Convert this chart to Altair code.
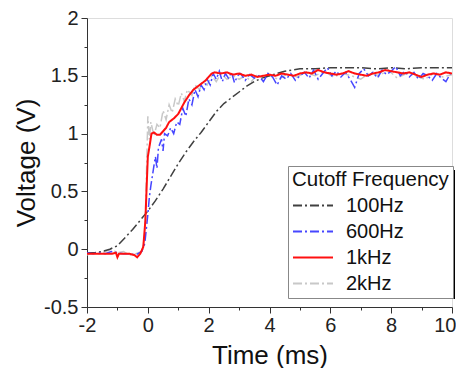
import altair as alt
import pandas as pd

# ---- data ----
series_names = ["100Hz", "600Hz", "1kHz", "2kHz"]
series_colors = ["#404040", "#4646ff", "#ff1010", "#c8c8c8"]

t_100 = [-2.0, -1.75, -1.5, -1.25, -1.0, -0.75, -0.5, -0.25, 0.0, 0.25, 0.5, 0.75,
         1.0, 1.25, 1.5, 1.75, 2.0, 2.25, 2.5, 2.75, 3.0, 3.25, 3.5, 3.75, 4.0,
         4.25, 4.5, 4.75, 5.0, 5.5, 6.0, 6.5, 7.0, 7.5, 8.0, 8.5, 9.0, 9.5, 10.0]
v_100 = [-0.03, -0.03, -0.02, 0.0, 0.03, 0.1, 0.17, 0.25, 0.33, 0.42, 0.52, 0.63,
         0.74, 0.84, 0.93, 1.01, 1.1, 1.19, 1.26, 1.31, 1.36, 1.41, 1.45, 1.48, 1.5,
         1.52, 1.54, 1.55, 1.56, 1.56, 1.57, 1.57, 1.57, 1.56, 1.57, 1.56, 1.57, 1.57, 1.57]

t_600 = [-2.0, -1.8, -1.6, -1.4, -1.2, -1.0, -0.8, -0.6, -0.4, -0.2, -0.1, 0.0, 0.05,
         0.1, 0.2, 0.25, 0.3, 0.35, 0.45, 0.5, 0.55, 0.65, 0.75, 0.85, 0.95, 1.05,
         1.15, 1.25, 1.35, 1.45, 1.55, 1.65, 1.75, 1.85, 1.95, 2.05, 2.15, 2.25, 2.35,
         2.45, 2.55, 2.65, 2.75, 2.85, 2.95, 3.05, 3.2, 3.35, 3.5, 3.65, 3.8, 3.95,
         4.1, 4.25, 4.4, 4.55, 4.7, 4.85, 5.0, 5.15, 5.3, 5.45, 5.6, 5.75, 5.9, 6.05,
         6.2, 6.35, 6.5, 6.65, 6.8, 6.95, 7.1, 7.25, 7.4, 7.55, 7.7, 7.85, 8.0, 8.15,
         8.3, 8.45, 8.6, 8.75, 8.9, 9.05, 9.2, 9.35, 9.5, 9.65, 9.8, 9.95]
v_600 = [-0.03, -0.04, -0.03, -0.04, -0.02, -0.03, -0.04, -0.04, -0.05, -0.02, 0.05, 0.3, 0.45,
         0.55, 0.72, 0.8, 0.7, 0.88, 0.95, 0.85, 1.0, 0.98, 1.05, 1.0, 1.1, 1.08,
         1.22, 1.15, 1.3, 1.25, 1.38, 1.32, 1.42, 1.38, 1.47, 1.42, 1.52, 1.47, 1.54,
         1.45, 1.52, 1.48, 1.53, 1.44, 1.5, 1.52, 1.46, 1.51, 1.48, 1.5, 1.45, 1.52,
         1.49, 1.42, 1.5, 1.47, 1.52, 1.46, 1.5, 1.53, 1.48, 1.55, 1.47, 1.52, 1.57, 1.5,
         1.54, 1.49, 1.53, 1.47, 1.4, 1.52, 1.56, 1.5, 1.53, 1.48, 1.55, 1.51, 1.54, 1.58,
         1.5, 1.54, 1.49, 1.53, 1.47, 1.52, 1.5, 1.46, 1.52, 1.48, 1.45, 1.52]

t_1k = [-2.0, -1.8, -1.6, -1.4, -1.2, -1.05, -1.0, -0.95, -0.8, -0.6, -0.45, -0.35,
        -0.25, -0.15, -0.08, -0.03, 0.0, 0.05, 0.12, 0.2, 0.3, 0.4, 0.5, 0.6, 0.7,
        0.85, 1.0, 1.1, 1.2, 1.35, 1.5, 1.65, 1.8, 1.9, 2.0, 2.1, 2.2, 2.4, 2.6, 2.8,
        3.0, 3.2, 3.4, 3.6, 3.8, 4.0, 4.2, 4.4, 4.6, 4.8, 5.0, 5.2, 5.4, 5.6, 5.8, 6.0,
        6.2, 6.4, 6.6, 6.8, 7.0, 7.2, 7.4, 7.6, 7.8, 8.0, 8.2, 8.4, 8.6, 8.8, 9.0, 9.2,
        9.4, 9.6, 9.8, 10.0]
v_1k = [-0.04, -0.04, -0.04, -0.04, -0.04, -0.03, -0.07, -0.04, -0.04, -0.04, -0.05, -0.07,
        -0.04, 0.02, 0.25, 0.6, 0.8, 0.88, 1.0, 1.01, 0.99, 0.99, 1.02, 1.05, 1.1,
        1.13, 1.17, 1.22, 1.27, 1.33, 1.38, 1.41, 1.44, 1.46, 1.49, 1.52, 1.53, 1.52, 1.53, 1.51,
        1.52, 1.5, 1.51, 1.49, 1.5, 1.51, 1.5, 1.52, 1.51, 1.5, 1.52, 1.53, 1.52, 1.55, 1.53, 1.52,
        1.51, 1.52, 1.54, 1.52, 1.51, 1.5, 1.52, 1.53, 1.55, 1.54, 1.53, 1.52, 1.53, 1.51, 1.49, 1.51,
        1.52, 1.51, 1.53, 1.52]

t_2k = [-2.0, -1.8, -1.6, -1.4, -1.2, -1.0, -0.8, -0.6, -0.4, -0.2, -0.1, -0.05, 0.0,
        0.05, 0.1, 0.2, 0.3, 0.4, 0.5, 0.6, 0.7, 0.8, 0.9, 1.0, 1.1, 1.2, 1.3, 1.45,
        1.55, 1.7, 1.8, 1.95, 2.1, 2.25, 2.4, 2.6, 2.8, 3.0, 3.2, 3.4, 3.6, 3.8, 4.0,
        4.3, 4.6, 4.9, 5.2, 5.5, 5.8, 6.1, 6.4, 6.7, 7.0, 7.3, 7.6, 7.9, 8.2, 8.5,
        8.8, 9.1, 9.4, 9.7, 10.0]
v_2k = [-0.05, -0.03, -0.04, -0.02, 0.0, -0.03, -0.02, -0.05, -0.04, -0.02, 0.1, 0.6, 1.15,
        0.95, 1.1, 0.98, 1.08, 1.05, 1.2, 1.12, 1.25, 1.18, 1.3, 1.24, 1.35, 1.28, 1.38, 1.33,
        1.42, 1.38, 1.45, 1.42, 1.5, 1.45, 1.52, 1.47, 1.5, 1.47, 1.5, 1.45, 1.51, 1.48, 1.5,
        1.47, 1.52, 1.49, 1.53, 1.5, 1.54, 1.49, 1.52, 1.5, 1.47, 1.53, 1.5, 1.55, 1.48, 1.52,
        1.5, 1.47, 1.52, 1.49, 1.51]

x_ticks = [-2, -1, 0, 1, 2, 3, 4, 5, 6, 7, 8, 9, 10]
y_ticks = [-0.5, -0.25, 0, 0.25, 0.5, 0.75, 1, 1.25, 1.5, 1.75, 2]

# draw order: 2kHz at back, red on top
frames = []
for name, t, v in [("2kHz", t_2k, v_2k), ("100Hz", t_100, v_100),
                   ("600Hz", t_600, v_600), ("1kHz", t_1k, v_1k)]:
    frames.append(pd.DataFrame({"t": t, "v": v, "series": name}))
df = pd.concat(frames, ignore_index=True)
df["idx"] = range(len(df))

FONT = "Liberation Sans"

x_axis = alt.Axis(
    values=x_ticks,
    labelExpr="datum.value % 2 == 0 ? '' + datum.value : ''",
    tickSize={"condition": {"test": "datum.value % 2 == 0", "value": 6}, "value": 3},
    labelAlign={"condition": {"test": "datum.value == 10", "value": "right"}, "value": "center"},
    labelOffset={"condition": {"test": "datum.value == 10", "value": 4}, "value": 0},
    grid=False, domainColor="#333", tickColor="#333", labelColor="#222",
    labelFontSize=20, labelFont=FONT, labelPadding=2, labelFlush=False,
    title="Time (ms)", titleFontSize=26, titleFont=FONT, titleFontWeight="normal",
    titleColor="#111", titlePadding=7,
)
y_axis = alt.Axis(
    values=y_ticks,
    labelExpr="datum.value % 0.5 == 0 ? '' + datum.value : ''",
    tickSize={"condition": {"test": "datum.value % 0.5 == 0", "value": 6}, "value": 3},
    grid=False, domainColor="#333", tickColor="#333", labelColor="#222",
    labelFontSize=20, labelFont=FONT, labelPadding=3, labelFlush=False,
    title="Voltage (V)", titleFontSize=26, titleFont=FONT, titleFontWeight="normal",
    titleColor="#111", titlePadding=4,
)

legend = alt.Legend(
    orient="none", legendX=201, legendY=148,
    fillColor="white", strokeColor="#888", padding=4,
    title="Cutoff Frequency", titleFontSize=20.5, titleFont=FONT,
    titleFontWeight="normal", titleColor="#111", titlePadding=4,
    labelFontSize=20, labelFont=FONT, labelColor="#111", labelOffset=32,
    symbolType="M-1,0H3", symbolSize=400, symbolStrokeWidth=2, rowPadding=5,
)

lines = alt.Chart(df).mark_line(clip=True).encode(
    x=alt.X("t:Q", scale=alt.Scale(domain=[-2, 10], nice=False), axis=x_axis),
    y=alt.Y("v:Q", scale=alt.Scale(domain=[-0.5, 2], nice=False), axis=y_axis),
    color=alt.Color("series:N", scale=alt.Scale(domain=series_names, range=series_colors),
                    legend=legend),
    strokeDash=alt.StrokeDash("series:N",
                              scale=alt.Scale(domain=series_names,
                                              range=[[9, 3, 2, 3], [9, 3, 2, 3], [1, 0], [9, 3, 2, 3]]),
                              legend=legend),
    strokeWidth=alt.condition(alt.datum.series == "1kHz", alt.value(2), alt.value(1.5)),
    order=alt.Order("idx:Q"),
    detail="series:N",
)

# drop shadow behind the legend box
shadow = alt.Chart(pd.DataFrame({"a": [0]})).mark_rect(color="black", clip=False).encode(
    x=alt.value(205), x2=alt.value(368), y=alt.value(152), y2=alt.value(281),
)

chart = alt.layer(shadow, lines).properties(
    width=365, height=289,
    autosize=alt.AutoSizeParams(type="none"),
    padding={"left": 79, "top": 10, "right": 4, "bottom": 61},
).configure_view(stroke=None).configure(background="white")

chart.save("out.html", embed_options={"renderer": "svg", "actions": False})
